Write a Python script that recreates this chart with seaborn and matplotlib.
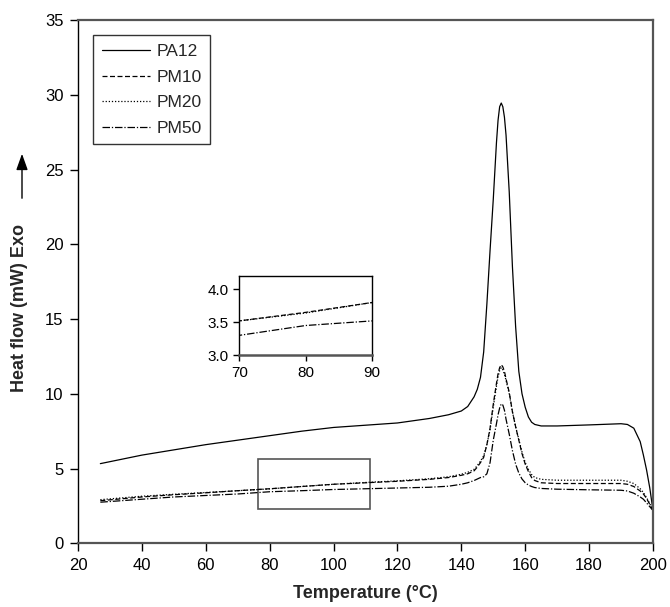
import numpy as np
import pandas as pd
import seaborn as sns
import matplotlib.pyplot as plt
from matplotlib.patches import Rectangle

# --- DATA ---
temperature = [27, 40, 50, 60, 70, 80, 90, 100, 110, 120, 130, 136, 140, 142, 144, 145,
               146, 147, 148, 149, 150, 151, 151.5, 152, 152.5, 153, 153.5, 154, 155, 156, 157, 158,
               159, 160, 161, 162, 163, 165, 170, 180, 190, 192, 194, 196, 197, 198, 199, 200]

pa12 = [5.33, 5.9, 6.25, 6.6, 6.9, 7.2, 7.5, 7.75, 7.9, 8.05, 8.35, 8.6, 8.85, 9.15, 9.8, 10.3,
        11.1, 12.8, 16.0, 19.6, 23.0, 26.8, 28.3, 29.2, 29.45, 29.2, 28.5, 27.3, 23.5, 18.5, 14.5, 11.5,
        10.0, 9.1, 8.45, 8.1, 7.95, 7.85, 7.85, 7.92, 8.0, 7.95, 7.7, 6.8, 5.9, 4.9, 3.7, 2.2]

pm10 = [2.85, 3.1, 3.25, 3.38, 3.52, 3.65, 3.8, 3.95, 4.05, 4.15, 4.28, 4.4, 4.55, 4.65, 4.85, 5.1,
        5.4, 5.75, 6.6, 7.7, 9.3, 10.7, 11.35, 11.75, 11.95, 11.8, 11.5, 11.0, 10.1, 8.8, 7.8, 6.9,
        6.0, 5.3, 4.8, 4.4, 4.2, 4.05, 4.0, 4.0, 4.0, 3.95, 3.8, 3.5, 3.3, 3.0, 2.6, 2.2]

pm20 = [2.92, 3.15, 3.28, 3.4, 3.52, 3.64, 3.8, 3.95, 4.07, 4.18, 4.32, 4.45, 4.62, 4.75, 4.95, 5.2,
        5.5, 5.85, 6.6, 7.6, 9.1, 10.5, 11.15, 11.55, 11.75, 11.6, 11.3, 10.9, 10.0, 8.8, 7.8, 6.95,
        6.1, 5.4, 4.95, 4.6, 4.4, 4.28, 4.22, 4.22, 4.22, 4.15, 4.0, 3.65, 3.4, 3.05, 2.65, 2.2]

pm50 = [2.75, 2.95, 3.1, 3.2, 3.3, 3.45, 3.52, 3.6, 3.65, 3.7, 3.75, 3.82, 3.95, 4.05, 4.2, 4.3,
        4.4, 4.45, 4.65, 5.4, 6.9, 8.0, 8.6, 9.05, 9.33, 9.25, 8.9, 8.3, 7.3, 6.2, 5.3, 4.7,
        4.3, 4.05, 3.9, 3.8, 3.73, 3.67, 3.62, 3.58, 3.55, 3.5, 3.35, 3.1, 2.95, 2.7, 2.45, 2.2]

samples = ["PA12", "PM10", "PM20", "PM50"]
x_ticks = [20, 40, 60, 80, 100, 120, 140, 160, 180, 200]
y_ticks = [0, 5, 10, 15, 20, 25, 30, 35]
inset_x_ticks = [70, 80, 90]
inset_y_ticks = [3.0, 3.5, 4.0]
zoom_box = (76.5, 2.27, 35.0, 3.4)  # x, y, width, height of the marked region

df = pd.concat([
    pd.DataFrame({"T": temperature, "HF": vals, "Sample": name})
    for name, vals in zip(samples, [pa12, pm10, pm20, pm50])
], ignore_index=True)

# --- STYLE ---
sns.set_theme(style="ticks")
plt.rcParams["font.family"] = ["Liberation Sans", "DejaVu Sans"]
plt.rcParams["xtick.direction"] = "out"
plt.rcParams["ytick.direction"] = "out"

line_dashes = {"PA12": "", "PM10": (4, 2), "PM20": (1, 1.5), "PM50": (6, 1.5, 1, 1.5)}
palette = {s: "black" for s in samples}


def style_spines(ax, lw_thick=1.6):
    for side in ["top", "right", "bottom"]:
        ax.spines[side].set_color("#555555")
        ax.spines[side].set_linewidth(lw_thick)
    ax.spines["left"].set_color("black")
    ax.spines["left"].set_linewidth(1.0)


fig = plt.figure(figsize=(6.7, 6.07), dpi=100)
ax = fig.add_axes([0.1164, 0.1049, 0.8582, 0.8621])

sns.lineplot(data=df, x="T", y="HF", hue="Sample", style="Sample", palette=palette,
             dashes=line_dashes, estimator=None, sort=False, linewidth=0.9, ax=ax)

ax.set_xlim(20, 200)
ax.set_ylim(0, 35)
ax.set_xticks(x_ticks)
ax.set_yticks(y_ticks)
ax.tick_params(labelsize=12, length=5.5, width=1, pad=5, colors="black")
style_spines(ax)

ax.set_xlabel("Temperature (°C)", fontsize=13, fontweight="bold", labelpad=9)
ax.set_ylabel("Heat flow (mW) Exo", fontsize=13, fontweight="bold")
ax.yaxis.set_label_coords(-0.087, 0.449)
# arrow pointing up (exothermic direction)
fig.add_artist(plt.Annotation("", xy=(22 / 670, 1 - 151 / 607), xytext=(22 / 670, 1 - 201 / 607),
                              xycoords="figure fraction", textcoords="figure fraction",
                              arrowprops=dict(arrowstyle="-|>,head_width=0.25,head_length=0.7",
                                              color="black", lw=1.0, mutation_scale=14)))

handles, labels = ax.get_legend_handles_labels()
leg = ax.legend(handles, labels, loc="upper left", bbox_to_anchor=(0.026, 0.971),
                borderaxespad=0, fontsize=12.5, frameon=True, fancybox=False,
                edgecolor="black", handlelength=2.8, borderpad=0.5, labelspacing=0.6,
                handletextpad=0.35)
leg.get_frame().set_linewidth(1.0)

ax.add_patch(Rectangle(zoom_box[:2], zoom_box[2], zoom_box[3], fill=False,
                       edgecolor="#555555", linewidth=1.2))

# --- INSET ---
axin = fig.add_axes([0.357, 0.415, 0.1985, 0.130])
sns.lineplot(data=df[df["Sample"] != "PA12"], x="T", y="HF", hue="Sample", style="Sample",
             palette=palette, dashes=line_dashes, estimator=None, sort=False,
             linewidth=0.9, legend=False, ax=axin)
axin.set_xlim(70, 90)
axin.set_ylim(3.0, 4.2)
axin.set_xticks(inset_x_ticks)
axin.set_yticks(inset_y_ticks)
axin.set_yticklabels([f"{v:.1f}" for v in inset_y_ticks])
axin.set_xlabel("")
axin.set_ylabel("")
axin.tick_params(labelsize=11, length=4, width=1, colors="black")
style_spines(axin, lw_thick=1.0)
axin.spines["bottom"].set_linewidth(1.8)
axin.spines["top"].set_color("black")
axin.spines["right"].set_color("black")

fig.savefig("out.png", dpi=100)
